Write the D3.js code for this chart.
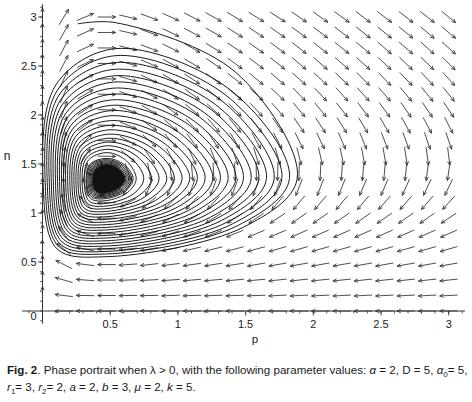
<!DOCTYPE html>
<html><head><meta charset="utf-8">
<script src="https://cdn.jsdelivr.net/npm/d3@7"></script>
<style>body{margin:0;background:#fff} text{font-family:"Liberation Sans",Arial,Helvetica,sans-serif;fill:#1a1a1a}</style>
</head><body>
<svg id="chart" width="472" height="402"></svg>
<script>
// direction-field grid (p across, n from top row n=3 down to n=0)
const gridP = [0,0.158,0.316,0.474,0.632,0.789,0.947,1.105,1.263,1.421,1.579,1.737,1.895,2.053,2.211,2.368,2.526,2.684,2.842,3.0];
const gridN = [3.0,2.842,2.684,2.526,2.368,2.211,2.053,1.895,1.737,1.579,1.421,1.263,1.105,0.947,0.789,0.632,0.474,0.316,0.158,0];
// arrow directions in degrees (0 = towards +p, 90 = towards +n), one row per gridN value
const arrowAngles = [
 [90,59,23,0,-13,-20,-24,-27,-29,-31,-32,-33,-34,-35,-36,-37,-37,-38,-38,-39],
 [90,61,24,0,-13,-20,-25,-28,-30,-32,-34,-35,-36,-37,-38,-38,-39,-39,-40,-40],
 [90,62,25,0,-14,-21,-26,-30,-32,-34,-35,-37,-38,-38,-39,-40,-41,-41,-42,-42],
 [90,63,26,0,-15,-23,-28,-31,-34,-36,-37,-39,-40,-41,-41,-42,-43,-44,-44,-45],
 [90,65,28,0,-16,-25,-30,-33,-36,-38,-40,-41,-42,-43,-44,-45,-46,-46,-47,-48],
 [90,67,31,-1,-18,-27,-33,-36,-39,-41,-43,-44,-46,-47,-48,-48,-49,-50,-51,-51],
 [90,70,34,-1,-20,-30,-36,-40,-43,-45,-47,-49,-50,-51,-52,-53,-54,-55,-56,-56],
 [90,72,38,-1,-23,-35,-41,-46,-49,-51,-53,-55,-56,-57,-58,-59,-60,-61,-62,-63],
 [90,76,46,-1,-29,-42,-49,-54,-57,-59,-61,-63,-64,-65,-67,-68,-69,-70,-71,-71],
 [90,81,57,-1,-41,-55,-62,-66,-69,-71,-73,-74,-76,-77,-78,-79,-80,-81,-82,-83],
 [90,86,76,-4,-71,-79,-83,-85,-87,-88,-89,-91,-92,-93,-94,-95,-95,-96,-97,-98],
 [90,93,105,-177,-122,-114,-111,-110,-110,-110,-110,-110,-111,-111,-112,-113,-113,-114,-115,-115],
 [90,102,133,-179,-152,-141,-136,-133,-132,-131,-130,-130,-130,-130,-130,-130,-131,-131,-131,-132],
 [90,113,151,-180,-164,-157,-152,-150,-148,-147,-146,-146,-145,-145,-145,-145,-145,-145,-145,-146],
 [90,126,162,-180,-170,-165,-162,-160,-159,-158,-157,-157,-156,-156,-156,-156,-156,-156,-156,-156],
 [90,140,168,-180,-174,-171,-169,-167,-166,-165,-165,-164,-164,-164,-164,-164,-164,-164,-164,-164],
 [90,153,173,-180,-176,-174,-173,-172,-171,-171,-170,-170,-170,-170,-170,-170,-170,-170,-170,-170],
 [90,164,176,-180,-178,-177,-176,-175,-175,-175,-175,-174,-174,-174,-174,-174,-174,-174,-174,-174],
 [90,173,179,-180,-179,-179,-178,-178,-178,-178,-178,-177,-177,-177,-177,-177,-177,-177,-177,-177],
 [null,180,180,180,180,180,180,180,180,180,180,180,180,180,180,180,180,180,180,180]
];
// spiral trajectory: successive extremes of each turn
const startPoint = [0.26, 2.93];
const focusPoint = [0.47, 1.35];
const loopTopN = [2.942,2.677,2.605,2.535,2.466,2.400,2.336,2.274,2.213,2.155,2.099,2.045,1.993,1.943,1.895,1.849,1.805,1.763,1.724,1.686,1.650,1.616,
 1.5568,1.5444,1.5327,1.5217,1.5115,1.5017,1.4927,1.4841,1.4761,1.4685,1.4614,1.4547,1.4484,1.4425,1.4370,1.4318,1.4268,1.4222,1.4179,1.4139,
 1.4100,1.4064,1.4030,1.3998,1.3968,1.3940,1.3914,1.3889,1.3865,1.3844,1.3824,1.3804,1.3786,1.3769,1.3752,1.3737,1.3723,1.3710,1.3697,1.3685,
 1.3675,1.3664,1.3654,1.3645,1.3636,1.3628,1.3620,1.3613];
const loopRightP = [1.881,1.824,1.768,1.711,1.654,1.598,1.541,1.484,1.428,1.371,1.314,1.258,1.201,1.144,1.088,1.031,0.974,0.918,0.861,0.805,0.748,0.692,
 0.6695,0.6576,0.6463,0.6358,0.6258,0.6164,0.6078,0.5995,0.5917,0.5844,0.5775,0.5711,0.5649,0.5592,0.5540,0.5490,0.5442,0.5397,0.5355,0.5316,
 0.5280,0.5243,0.5212,0.5180,0.5152,0.5126,0.5099,0.5075,0.5053,0.5032,0.5012,0.4994,0.4976,0.4959,0.4944,0.4928,0.4916,0.4903,0.4890,0.4879,
 0.4868,0.4858,0.4848,0.4840,0.4832,0.4823,0.4816,0.4809];
const loopBottomN = [0.554,0.582,0.608,0.636,0.663,0.690,0.717,0.745,0.771,0.799,0.827,0.853,0.881,0.908,0.935,0.962,0.990,1.016,1.044,1.071,1.098,1.126,
 1.1472,1.1593,1.1708,1.1815,1.1916,1.2012,1.2100,1.2184,1.2263,1.2338,1.2407,1.2473,1.2535,1.2593,1.2647,1.2698,1.2746,1.2792,1.2834,1.2874,
 1.2911,1.2947,1.2980,1.3011,1.3041,1.3068,1.3094,1.3118,1.3142,1.3163,1.3183,1.3202,1.3219,1.3236,1.3253,1.3268,1.3281,1.3294,1.3307,1.3318,
 1.3329,1.3339,1.3349,1.3358,1.3367,1.3375,1.3382,1.3390];
const loopLeftP = [0.005,0.020,0.035,0.050,0.065,0.080,0.096,0.111,0.126,0.141,0.156,0.171,0.186,0.202,0.217,0.232,0.247,0.262,0.277,0.292,0.308,0.322,
 0.3275,0.3360,0.3441,0.3516,0.3587,0.3654,0.3716,0.3775,0.3831,0.3883,0.3932,0.3978,0.4022,0.4063,0.4100,0.4136,0.4170,0.4202,0.4232,0.4260,
 0.4286,0.4312,0.4334,0.4357,0.4377,0.4396,0.4415,0.4432,0.4448,0.4463,0.4477,0.4490,0.4503,0.4515,0.4526,0.4537,0.4546,0.4555,0.4564,0.4572,
 0.4580,0.4587,0.4594,0.4600,0.4606,0.4612,0.4617,0.4622];
const denseCoreTurn = 28; // turns inside this one merge into a solid dark core
// axes
const xTicks = [0.5,1,1.5,2,2.5,3];
const xTickLabels = ["0.5","1","1.5","2","2.5","3"];
const yTicks = [0.5,1,1.5,2,2.5,3];
const yTickLabels = ["0.5","1","1.5","2","2.5","3"];
const originLabel = "0";

const svg = d3.select('#chart');
const x = d3.scaleLinear().domain([0,3]).range([42.5,448.7]);
const y = d3.scaleLinear().domain([0,3]).range([311,17]);

// direction field
const arrows = [];
arrowAngles.forEach((row,r)=>row.forEach((a,c)=>{ if(a!==null) arrows.push({p:gridP[c],n:gridN[r],a}); }));
const L = 18, H = 4.2, HA = 24*Math.PI/180;
svg.append('g').selectAll('path').data(arrows).join('path')
 .attr('d',d=>{
   const t=d.a*Math.PI/180, ux=Math.cos(t), uy=-Math.sin(t);
   const cx=x(d.p), cy=y(d.n);
   const x0=cx-ux*L/2, y0=cy-uy*L/2, x1=cx+ux*L/2, y1=cy+uy*L/2;
   const b=Math.atan2(uy,ux);
   const bx1=x1-H*Math.cos(b-HA), by1=y1-H*Math.sin(b-HA);
   const bx2=x1-H*Math.cos(b+HA), by2=y1-H*Math.sin(b+HA);
   return `M${x0},${y0}L${x1},${y1}M${bx1},${by1}L${x1},${y1}L${bx2},${by2}`;
 })
 .attr('fill','none').attr('stroke','#3a3a3a').attr('stroke-width',0.9);

// trajectory
const pc=focusPoint[0], nc=focusPoint[1];
const verts=[startPoint];
const K=loopTopN.length;
for(let k=0;k<K;k++){
  const T=loopTopN[k], R=loopRightP[k], B=loopBottomN[k], Lp=loopLeftP[k];
  const Tn = k+1<K ? loopTopN[k+1] : nc;
  verts.push([pc+0.05*(R-pc), T]);
  verts.push([pc+0.68*(R-pc), nc+0.68*(T-nc)]);
  verts.push([R, nc]);
  verts.push([pc+0.72*(R-pc), nc-0.62*(nc-B)]);
  verts.push([pc, B]);
  verts.push([pc-0.78*(pc-Lp), nc-0.9*(nc-B)]);
  verts.push([Lp, nc-0.05*(nc-B)]);
  verts.push([pc-0.8*(pc-Lp), nc+0.72*(Tn-nc)]);
}
verts.push(focusPoint);
const lineGen = d3.line().x(d=>x(d[0])).y(d=>y(d[1]));
const outerVerts = verts.slice(0, 1+(denseCoreTurn+1)*8);
svg.append('path').datum(outerVerts)
 .attr('d', lineGen.curve(d3.curveCatmullRom.alpha(0.5))(outerVerts))
 .attr('fill','none').attr('stroke','#1a1a1a').attr('stroke-width',1.0);
const core = verts.slice(1+denseCoreTurn*8, 1+denseCoreTurn*8+8);
svg.append('path')
 .attr('d', d3.line().x(d=>x(d[0])).y(d=>y(d[1])).curve(d3.curveCatmullRomClosed.alpha(0.5))(core))
 .attr('fill','#111').attr('stroke','#111').attr('stroke-width',0.8);

// axes
const ax = svg.append('g').attr('stroke','#333');
ax.append('line').attr('x1',x(-0.15)).attr('x2',x(3.12)).attr('y1',y(0)).attr('y2',y(0)).attr('stroke-width',1);
ax.append('line').attr('x1',x(0)).attr('x2',x(0)).attr('y1',y(-0.13)).attr('y2',y(3.13)).attr('stroke-width',1);
const minor = d3.range(-1,32).map(i=>i/10);
ax.selectAll('.mx').data(minor).join('line').attr('x1',d=>x(d)).attr('x2',d=>x(d)).attr('y1',y(0)).attr('y2',y(0)+2.5).attr('stroke-width',0.8);
ax.selectAll('.my').data(minor).join('line').attr('y1',d=>y(d)).attr('y2',d=>y(d)).attr('x1',x(0)).attr('x2',x(0)-2.5).attr('stroke-width',0.8);
ax.selectAll('.Mx').data(xTicks).join('line').attr('x1',d=>x(d)).attr('x2',d=>x(d)).attr('y1',y(0)).attr('y2',y(0)+4.5).attr('stroke-width',0.9);
ax.selectAll('.My').data(yTicks).join('line').attr('y1',d=>y(d)).attr('y2',d=>y(d)).attr('x1',x(0)).attr('x2',x(0)-4.5).attr('stroke-width',0.9);

svg.selectAll('.xl').data(xTicks).join('text').attr('x',d=>x(d)).attr('y',y(0)+16.5).attr('text-anchor','middle').attr('font-size',11).text((d,i)=>xTickLabels[i]);
svg.selectAll('.yl').data(yTicks).join('text').attr('x',x(0)-6).attr('y',d=>y(d)+4).attr('text-anchor','end').attr('font-size',11).text((d,i)=>yTickLabels[i]);
svg.append('text').attr('x',x(0)-6).attr('y',y(0)+8.5).attr('text-anchor','end').attr('font-size',11).text(originLabel);
svg.append('text').attr('x',7).attr('y',160).attr('text-anchor','middle').attr('font-size',12).text('n');
svg.append('text').attr('x',255).attr('y',343).attr('text-anchor','middle').attr('font-size',11.5).text('p');

// caption
const fs = 11.6;
const c1 = svg.append('text').attr('x',7).attr('y',374).attr('font-size',fs);
c1.append('tspan').attr('font-weight','bold').text('Fig. 2');
c1.append('tspan').text('. Phase portrait when λ > 0, with the following parameter values: ');
c1.append('tspan').attr('font-style','italic').text('α');
c1.append('tspan').text(' = 2, D = 5, ');
c1.append('tspan').attr('font-style','italic').text('α');
c1.append('tspan').attr('font-size',8).attr('dy',2.8).text('0');
c1.append('tspan').attr('dy',-2.8).text('= 5,');
const c2 = svg.append('text').attr('x',7).attr('y',391).attr('font-size',fs);
c2.append('tspan').attr('font-style','italic').text('r');
c2.append('tspan').attr('font-size',8).attr('dy',2.8).text('1');
c2.append('tspan').attr('dy',-2.8).text('= 3, ');
c2.append('tspan').attr('font-style','italic').text('r');
c2.append('tspan').attr('font-size',8).attr('dy',2.8).text('2');
c2.append('tspan').attr('dy',-2.8).text('= 2, ');
c2.append('tspan').attr('font-style','italic').text('a');
c2.append('tspan').text(' = 2, ');
c2.append('tspan').attr('font-style','italic').text('b');
c2.append('tspan').text(' = 3, ');
c2.append('tspan').attr('font-style','italic').text('μ');
c2.append('tspan').text(' = 2, ');
c2.append('tspan').attr('font-style','italic').text('k');
c2.append('tspan').text(' = 5.');
</script></body></html>
